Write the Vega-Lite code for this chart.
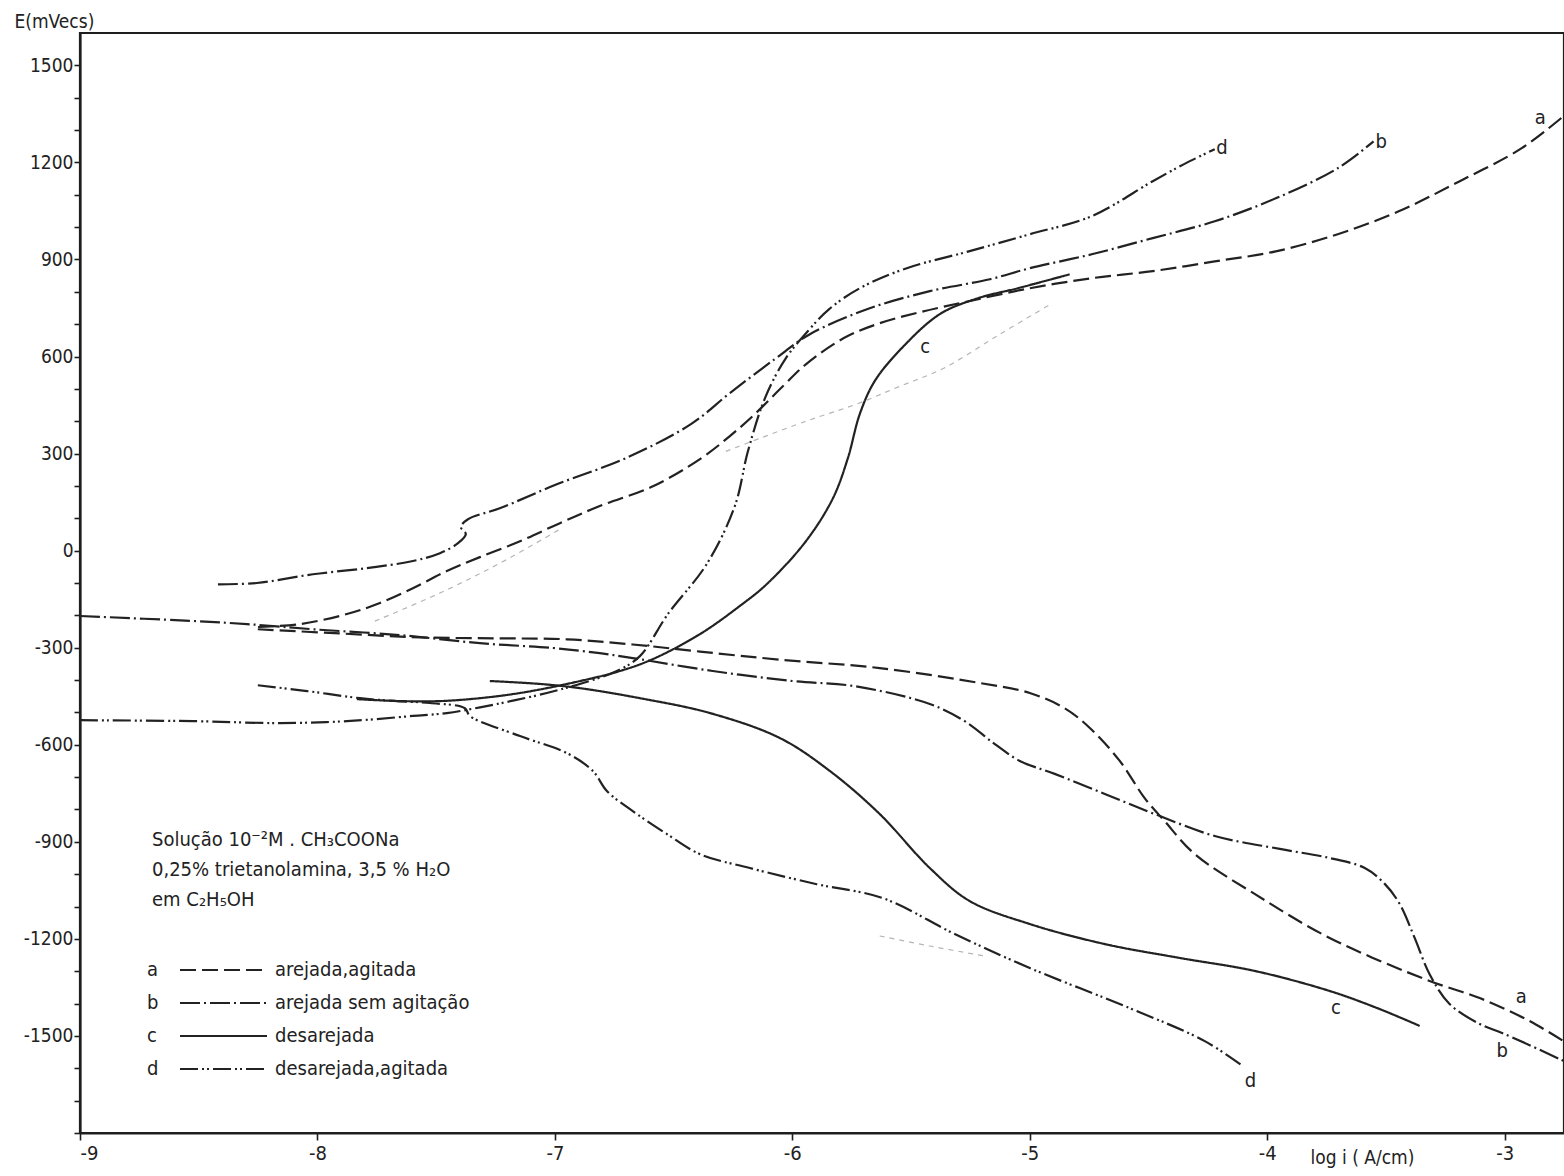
{
  "$schema": "https://vega.github.io/schema/vega-lite/v6.json",
  "width": 1484,
  "height": 1100,
  "autosize": {"type": "none"},
  "padding": {"left": 80, "top": 33, "right": 0, "bottom": 43},
  "background": "white",
  "config": {
    "font": "DejaVu Sans Condensed, DejaVu Sans, sans-serif",
    "view": {"stroke": "#1e1e1e", "strokeWidth": 2.2},
    "axis": {
      "grid": false,
      "domainColor": "#1e1e1e",
      "domainWidth": 2.2,
      "tickColor": "#1e1e1e",
      "tickWidth": 1.6,
      "labelColor": "#222",
      "titleColor": "#222",
      "labelFontSize": 19,
      "titleFontSize": 19,
      "titleFontWeight": "normal"
    }
  },
  "datasets": {
    "condicoes": [
      {"curva": "a", "condicao": "arejada,agitada"},
      {"curva": "b", "condicao": "arejada sem agitação"},
      {"curva": "c", "condicao": "desarejada"},
      {"curva": "d", "condicao": "desarejada,agitada"}
    ],
    "curvas": [
      {"curva": "a", "ramo": "a1", "i": 0, "logi": -8.25, "E": -236},
      {"curva": "a", "ramo": "a1", "i": 1, "logi": -8.074, "E": -227},
      {"curva": "a", "ramo": "a1", "i": 2, "logi": -7.876, "E": -196},
      {"curva": "a", "ramo": "a1", "i": 3, "logi": -7.737, "E": -162},
      {"curva": "a", "ramo": "a1", "i": 4, "logi": -7.598, "E": -116},
      {"curva": "a", "ramo": "a1", "i": 5, "logi": -7.455, "E": -63},
      {"curva": "a", "ramo": "a1", "i": 6, "logi": -7.316, "E": -20},
      {"curva": "a", "ramo": "a1", "i": 7, "logi": -7.147, "E": 29},
      {"curva": "a", "ramo": "a1", "i": 8, "logi": -6.979, "E": 85},
      {"curva": "a", "ramo": "a1", "i": 9, "logi": -6.811, "E": 138},
      {"curva": "a", "ramo": "a1", "i": 10, "logi": -6.587, "E": 199},
      {"curva": "a", "ramo": "a1", "i": 11, "logi": -6.389, "E": 283},
      {"curva": "a", "ramo": "a1", "i": 12, "logi": -6.263, "E": 354},
      {"curva": "a", "ramo": "a1", "i": 13, "logi": -6.158, "E": 422},
      {"curva": "a", "ramo": "a1", "i": 14, "logi": -6.04, "E": 508},
      {"curva": "a", "ramo": "a1", "i": 15, "logi": -5.943, "E": 576},
      {"curva": "a", "ramo": "a1", "i": 16, "logi": -5.783, "E": 657},
      {"curva": "a", "ramo": "a1", "i": 17, "logi": -5.632, "E": 703},
      {"curva": "a", "ramo": "a1", "i": 18, "logi": -5.463, "E": 737},
      {"curva": "a", "ramo": "a1", "i": 19, "logi": -5.257, "E": 771},
      {"curva": "a", "ramo": "a1", "i": 20, "logi": -5.0, "E": 811},
      {"curva": "a", "ramo": "a1", "i": 21, "logi": -4.739, "E": 842},
      {"curva": "a", "ramo": "a1", "i": 22, "logi": -4.482, "E": 864},
      {"curva": "a", "ramo": "a1", "i": 23, "logi": -4.221, "E": 894},
      {"curva": "a", "ramo": "a1", "i": 24, "logi": -3.964, "E": 925},
      {"curva": "a", "ramo": "a1", "i": 25, "logi": -3.703, "E": 978},
      {"curva": "a", "ramo": "a1", "i": 26, "logi": -3.446, "E": 1049},
      {"curva": "a", "ramo": "a1", "i": 27, "logi": -3.189, "E": 1142},
      {"curva": "a", "ramo": "a1", "i": 28, "logi": -2.928, "E": 1244},
      {"curva": "a", "ramo": "a1", "i": 29, "logi": -2.752, "E": 1343},

      {"curva": "a", "ramo": "a2", "i": 0, "logi": -8.251, "E": -243},
      {"curva": "a", "ramo": "a2", "i": 1, "logi": -7.905, "E": -256},
      {"curva": "a", "ramo": "a2", "i": 2, "logi": -7.568, "E": -268},
      {"curva": "a", "ramo": "a2", "i": 3, "logi": -7.244, "E": -271},
      {"curva": "a", "ramo": "a2", "i": 4, "logi": -6.949, "E": -274},
      {"curva": "a", "ramo": "a2", "i": 5, "logi": -6.672, "E": -290},
      {"curva": "a", "ramo": "a2", "i": 6, "logi": -6.389, "E": -312},
      {"curva": "a", "ramo": "a2", "i": 7, "logi": -6.053, "E": -337},
      {"curva": "a", "ramo": "a2", "i": 8, "logi": -5.632, "E": -363},
      {"curva": "a", "ramo": "a2", "i": 9, "logi": -5.211, "E": -409},
      {"curva": "a", "ramo": "a2", "i": 10, "logi": -5.0, "E": -440},
      {"curva": "a", "ramo": "a2", "i": 11, "logi": -4.853, "E": -487},
      {"curva": "a", "ramo": "a2", "i": 12, "logi": -4.747, "E": -548},
      {"curva": "a", "ramo": "a2", "i": 13, "logi": -4.621, "E": -650},
      {"curva": "a", "ramo": "a2", "i": 14, "logi": -4.516, "E": -765},
      {"curva": "a", "ramo": "a2", "i": 15, "logi": -4.432, "E": -836},
      {"curva": "a", "ramo": "a2", "i": 16, "logi": -4.305, "E": -938},
      {"curva": "a", "ramo": "a2", "i": 17, "logi": -4.053, "E": -1061},
      {"curva": "a", "ramo": "a2", "i": 18, "logi": -3.737, "E": -1197},
      {"curva": "a", "ramo": "a2", "i": 19, "logi": -3.316, "E": -1330},
      {"curva": "a", "ramo": "a2", "i": 20, "logi": -3.105, "E": -1383},
      {"curva": "a", "ramo": "a2", "i": 21, "logi": -2.895, "E": -1454},
      {"curva": "a", "ramo": "a2", "i": 22, "logi": -2.752, "E": -1516},

      {"curva": "b", "ramo": "b1", "i": 0, "logi": -8.419, "E": -104},
      {"curva": "b", "ramo": "b1", "i": 1, "logi": -8.255, "E": -100},
      {"curva": "b", "ramo": "b1", "i": 2, "logi": -8.019, "E": -73},
      {"curva": "b", "ramo": "b1", "i": 3, "logi": -7.792, "E": -54},
      {"curva": "b", "ramo": "b1", "i": 4, "logi": -7.598, "E": -32},
      {"curva": "b", "ramo": "b1", "i": 5, "logi": -7.484, "E": -8},
      {"curva": "b", "ramo": "b1", "i": 6, "logi": -7.408, "E": 23},
      {"curva": "b", "ramo": "b1", "i": 7, "logi": -7.375, "E": 51},
      {"curva": "b", "ramo": "b1", "i": 8, "logi": -7.396, "E": 73},
      {"curva": "b", "ramo": "b1", "i": 9, "logi": -7.366, "E": 97},
      {"curva": "b", "ramo": "b1", "i": 10, "logi": -7.232, "E": 131},
      {"curva": "b", "ramo": "b1", "i": 11, "logi": -6.992, "E": 205},
      {"curva": "b", "ramo": "b1", "i": 12, "logi": -6.701, "E": 286},
      {"curva": "b", "ramo": "b1", "i": 13, "logi": -6.427, "E": 391},
      {"curva": "b", "ramo": "b1", "i": 14, "logi": -6.263, "E": 487},
      {"curva": "b", "ramo": "b1", "i": 15, "logi": -6.074, "E": 592},
      {"curva": "b", "ramo": "b1", "i": 16, "logi": -5.926, "E": 669},
      {"curva": "b", "ramo": "b1", "i": 17, "logi": -5.674, "E": 749},
      {"curva": "b", "ramo": "b1", "i": 18, "logi": -5.421, "E": 802},
      {"curva": "b", "ramo": "b1", "i": 19, "logi": -5.168, "E": 839},
      {"curva": "b", "ramo": "b1", "i": 20, "logi": -5.0, "E": 873},
      {"curva": "b", "ramo": "b1", "i": 21, "logi": -4.739, "E": 916},
      {"curva": "b", "ramo": "b1", "i": 22, "logi": -4.482, "E": 966},
      {"curva": "b", "ramo": "b1", "i": 23, "logi": -4.221, "E": 1018},
      {"curva": "b", "ramo": "b1", "i": 24, "logi": -3.964, "E": 1089},
      {"curva": "b", "ramo": "b1", "i": 25, "logi": -3.703, "E": 1182},
      {"curva": "b", "ramo": "b1", "i": 26, "logi": -3.552, "E": 1265},

      {"curva": "b", "ramo": "b2", "i": 0, "logi": -9.0, "E": -202},
      {"curva": "b", "ramo": "b2", "i": 1, "logi": -8.507, "E": -218},
      {"curva": "b", "ramo": "b2", "i": 2, "logi": -8.297, "E": -227},
      {"curva": "b", "ramo": "b2", "i": 3, "logi": -8.019, "E": -243},
      {"curva": "b", "ramo": "b2", "i": 4, "logi": -7.653, "E": -261},
      {"curva": "b", "ramo": "b2", "i": 5, "logi": -7.316, "E": -286},
      {"curva": "b", "ramo": "b2", "i": 6, "logi": -7.008, "E": -301},
      {"curva": "b", "ramo": "b2", "i": 7, "logi": -6.811, "E": -317},
      {"curva": "b", "ramo": "b2", "i": 8, "logi": -6.672, "E": -332},
      {"curva": "b", "ramo": "b2", "i": 9, "logi": -6.335, "E": -372},
      {"curva": "b", "ramo": "b2", "i": 10, "logi": -5.998, "E": -403},
      {"curva": "b", "ramo": "b2", "i": 11, "logi": -5.737, "E": -419},
      {"curva": "b", "ramo": "b2", "i": 12, "logi": -5.421, "E": -474},
      {"curva": "b", "ramo": "b2", "i": 13, "logi": -5.274, "E": -527},
      {"curva": "b", "ramo": "b2", "i": 14, "logi": -5.147, "E": -598},
      {"curva": "b", "ramo": "b2", "i": 15, "logi": -5.042, "E": -650},
      {"curva": "b", "ramo": "b2", "i": 16, "logi": -4.895, "E": -690},
      {"curva": "b", "ramo": "b2", "i": 17, "logi": -4.684, "E": -752},
      {"curva": "b", "ramo": "b2", "i": 18, "logi": -4.474, "E": -814},
      {"curva": "b", "ramo": "b2", "i": 19, "logi": -4.221, "E": -882},
      {"curva": "b", "ramo": "b2", "i": 20, "logi": -3.947, "E": -922},
      {"curva": "b", "ramo": "b2", "i": 21, "logi": -3.737, "E": -950},
      {"curva": "b", "ramo": "b2", "i": 22, "logi": -3.589, "E": -981},
      {"curva": "b", "ramo": "b2", "i": 23, "logi": -3.505, "E": -1030},
      {"curva": "b", "ramo": "b2", "i": 24, "logi": -3.442, "E": -1092},
      {"curva": "b", "ramo": "b2", "i": 25, "logi": -3.379, "E": -1197},
      {"curva": "b", "ramo": "b2", "i": 26, "logi": -3.316, "E": -1309},
      {"curva": "b", "ramo": "b2", "i": 27, "logi": -3.232, "E": -1401},
      {"curva": "b", "ramo": "b2", "i": 28, "logi": -3.105, "E": -1463},
      {"curva": "b", "ramo": "b2", "i": 29, "logi": -3.0, "E": -1494},
      {"curva": "b", "ramo": "b2", "i": 30, "logi": -2.752, "E": -1577},

      {"curva": "c", "ramo": "c1", "i": 0, "logi": -7.834, "E": -459},
      {"curva": "c", "ramo": "c1", "i": 1, "logi": -7.653, "E": -465},
      {"curva": "c", "ramo": "c1", "i": 2, "logi": -7.484, "E": -465},
      {"curva": "c", "ramo": "c1", "i": 3, "logi": -7.316, "E": -456},
      {"curva": "c", "ramo": "c1", "i": 4, "logi": -7.147, "E": -440},
      {"curva": "c", "ramo": "c1", "i": 5, "logi": -6.949, "E": -412},
      {"curva": "c", "ramo": "c1", "i": 6, "logi": -6.726, "E": -372},
      {"curva": "c", "ramo": "c1", "i": 7, "logi": -6.587, "E": -335},
      {"curva": "c", "ramo": "c1", "i": 8, "logi": -6.389, "E": -258},
      {"curva": "c", "ramo": "c1", "i": 9, "logi": -6.221, "E": -171},
      {"curva": "c", "ramo": "c1", "i": 10, "logi": -6.107, "E": -103},
      {"curva": "c", "ramo": "c1", "i": 11, "logi": -5.943, "E": 29},
      {"curva": "c", "ramo": "c1", "i": 12, "logi": -5.829, "E": 162},
      {"curva": "c", "ramo": "c1", "i": 13, "logi": -5.766, "E": 286},
      {"curva": "c", "ramo": "c1", "i": 14, "logi": -5.716, "E": 422},
      {"curva": "c", "ramo": "c1", "i": 15, "logi": -5.653, "E": 524},
      {"curva": "c", "ramo": "c1", "i": 16, "logi": -5.539, "E": 626},
      {"curva": "c", "ramo": "c1", "i": 17, "logi": -5.379, "E": 731},
      {"curva": "c", "ramo": "c1", "i": 18, "logi": -5.219, "E": 780},
      {"curva": "c", "ramo": "c1", "i": 19, "logi": -5.051, "E": 811},
      {"curva": "c", "ramo": "c1", "i": 20, "logi": -4.832, "E": 854},

      {"curva": "c", "ramo": "c2", "i": 0, "logi": -7.274, "E": -403},
      {"curva": "c", "ramo": "c2", "i": 1, "logi": -7.063, "E": -412},
      {"curva": "c", "ramo": "c2", "i": 2, "logi": -6.895, "E": -425},
      {"curva": "c", "ramo": "c2", "i": 3, "logi": -6.642, "E": -456},
      {"curva": "c", "ramo": "c2", "i": 4, "logi": -6.347, "E": -502},
      {"curva": "c", "ramo": "c2", "i": 5, "logi": -6.053, "E": -579},
      {"curva": "c", "ramo": "c2", "i": 6, "logi": -5.842, "E": -681},
      {"curva": "c", "ramo": "c2", "i": 7, "logi": -5.632, "E": -814},
      {"curva": "c", "ramo": "c2", "i": 8, "logi": -5.421, "E": -981},
      {"curva": "c", "ramo": "c2", "i": 9, "logi": -5.253, "E": -1083},
      {"curva": "c", "ramo": "c2", "i": 10, "logi": -5.0, "E": -1154},
      {"curva": "c", "ramo": "c2", "i": 11, "logi": -4.684, "E": -1216},
      {"curva": "c", "ramo": "c2", "i": 12, "logi": -4.368, "E": -1259},
      {"curva": "c", "ramo": "c2", "i": 13, "logi": -4.053, "E": -1299},
      {"curva": "c", "ramo": "c2", "i": 14, "logi": -3.737, "E": -1361},
      {"curva": "c", "ramo": "c2", "i": 15, "logi": -3.526, "E": -1417},
      {"curva": "c", "ramo": "c2", "i": 16, "logi": -3.358, "E": -1469},

      {"curva": "d", "ramo": "d1", "i": 0, "logi": -9.0, "E": -524},
      {"curva": "d", "ramo": "d1", "i": 1, "logi": -8.524, "E": -527},
      {"curva": "d", "ramo": "d1", "i": 2, "logi": -8.158, "E": -533},
      {"curva": "d", "ramo": "d1", "i": 3, "logi": -7.876, "E": -527},
      {"curva": "d", "ramo": "d1", "i": 4, "logi": -7.598, "E": -511},
      {"curva": "d", "ramo": "d1", "i": 5, "logi": -7.455, "E": -502},
      {"curva": "d", "ramo": "d1", "i": 6, "logi": -7.244, "E": -474},
      {"curva": "d", "ramo": "d1", "i": 7, "logi": -7.034, "E": -440},
      {"curva": "d", "ramo": "d1", "i": 8, "logi": -6.895, "E": -412},
      {"curva": "d", "ramo": "d1", "i": 9, "logi": -6.739, "E": -372},
      {"curva": "d", "ramo": "d1", "i": 10, "logi": -6.642, "E": -326},
      {"curva": "d", "ramo": "d1", "i": 11, "logi": -6.524, "E": -196},
      {"curva": "d", "ramo": "d1", "i": 12, "logi": -6.36, "E": -41},
      {"curva": "d", "ramo": "d1", "i": 13, "logi": -6.242, "E": 138},
      {"curva": "d", "ramo": "d1", "i": 14, "logi": -6.187, "E": 307},
      {"curva": "d", "ramo": "d1", "i": 15, "logi": -6.112, "E": 477},
      {"curva": "d", "ramo": "d1", "i": 16, "logi": -6.027, "E": 595},
      {"curva": "d", "ramo": "d1", "i": 17, "logi": -5.935, "E": 678},
      {"curva": "d", "ramo": "d1", "i": 18, "logi": -5.846, "E": 746},
      {"curva": "d", "ramo": "d1", "i": 19, "logi": -5.716, "E": 811},
      {"curva": "d", "ramo": "d1", "i": 20, "logi": -5.518, "E": 873},
      {"curva": "d", "ramo": "d1", "i": 21, "logi": -5.257, "E": 925},
      {"curva": "d", "ramo": "d1", "i": 22, "logi": -5.0, "E": 978},
      {"curva": "d", "ramo": "d1", "i": 23, "logi": -4.739, "E": 1034},
      {"curva": "d", "ramo": "d1", "i": 24, "logi": -4.482, "E": 1142},
      {"curva": "d", "ramo": "d1", "i": 25, "logi": -4.352, "E": 1194},
      {"curva": "d", "ramo": "d1", "i": 26, "logi": -4.221, "E": 1241},

      {"curva": "d", "ramo": "d2", "i": 0, "logi": -8.251, "E": -416},
      {"curva": "d", "ramo": "d2", "i": 1, "logi": -8.044, "E": -434},
      {"curva": "d", "ramo": "d2", "i": 2, "logi": -7.821, "E": -456},
      {"curva": "d", "ramo": "d2", "i": 3, "logi": -7.665, "E": -465},
      {"curva": "d", "ramo": "d2", "i": 4, "logi": -7.526, "E": -471},
      {"curva": "d", "ramo": "d2", "i": 5, "logi": -7.379, "E": -487},
      {"curva": "d", "ramo": "d2", "i": 6, "logi": -7.358, "E": -511},
      {"curva": "d", "ramo": "d2", "i": 7, "logi": -7.147, "E": -573},
      {"curva": "d", "ramo": "d2", "i": 8, "logi": -6.949, "E": -626},
      {"curva": "d", "ramo": "d2", "i": 9, "logi": -6.84, "E": -681},
      {"curva": "d", "ramo": "d2", "i": 10, "logi": -6.781, "E": -743},
      {"curva": "d", "ramo": "d2", "i": 11, "logi": -6.672, "E": -805},
      {"curva": "d", "ramo": "d2", "i": 12, "logi": -6.528, "E": -876},
      {"curva": "d", "ramo": "d2", "i": 13, "logi": -6.389, "E": -938},
      {"curva": "d", "ramo": "d2", "i": 14, "logi": -6.179, "E": -981},
      {"curva": "d", "ramo": "d2", "i": 15, "logi": -5.897, "E": -1031},
      {"curva": "d", "ramo": "d2", "i": 16, "logi": -5.619, "E": -1074},
      {"curva": "d", "ramo": "d2", "i": 17, "logi": -5.316, "E": -1185},
      {"curva": "d", "ramo": "d2", "i": 18, "logi": -5.0, "E": -1290},
      {"curva": "d", "ramo": "d2", "i": 19, "logi": -4.579, "E": -1414},
      {"curva": "d", "ramo": "d2", "i": 20, "logi": -4.263, "E": -1516},
      {"curva": "d", "ramo": "d2", "i": 21, "logi": -4.103, "E": -1593}
    ],
    "guias": [
      {"trecho": "g1", "i": 0, "logi": -7.758, "E": -218},
      {"trecho": "g1", "i": 1, "logi": -7.484, "E": -131},
      {"trecho": "g1", "i": 2, "logi": -7.232, "E": -39},
      {"trecho": "g1", "i": 3, "logi": -6.979, "E": 66},
      {"trecho": "g2", "i": 0, "logi": -6.28, "E": 307},
      {"trecho": "g2", "i": 1, "logi": -5.943, "E": 400},
      {"trecho": "g2", "i": 2, "logi": -5.733, "E": 452},
      {"trecho": "g2", "i": 3, "logi": -5.547, "E": 508},
      {"trecho": "g2", "i": 4, "logi": -5.362, "E": 564},
      {"trecho": "g2", "i": 5, "logi": -5.126, "E": 669},
      {"trecho": "g2", "i": 6, "logi": -4.912, "E": 762},
      {"trecho": "g3", "i": 0, "logi": -5.632, "E": -1191},
      {"trecho": "g3", "i": 1, "logi": -5.421, "E": -1222},
      {"trecho": "g3", "i": 2, "logi": -5.189, "E": -1253}
    ],
    "rotulos": [
      {"texto": "a", "logi": -2.85, "E": 1337},
      {"texto": "b", "logi": -3.52, "E": 1263},
      {"texto": "d", "logi": -4.19, "E": 1245},
      {"texto": "c", "logi": -5.44, "E": 630},
      {"texto": "a", "logi": -2.93, "E": -1379},
      {"texto": "b", "logi": -3.01, "E": -1546},
      {"texto": "c", "logi": -3.71, "E": -1413},
      {"texto": "d", "logi": -4.07, "E": -1639}
    ]
  },
  "encoding": {
    "x": {
      "field": "logi",
      "type": "quantitative",
      "scale": {"domain": [-9, -2.75], "nice": false, "zero": false},
      "axis": {
        "values": [-9, -8, -7, -6, -5, -4, -3],
        "labelExpr": "datum.value + ''",
        "tickSize": 7,
        "labelPadding": 3,
        "labelFontSize": 20,
        "title": "log i ( A/cm)",
        "titleAnchor": "start",
        "titleAlign": "left",
        "titleBaseline": "middle",
        "titleX": 1230,
        "titleY": 24,
        "titleFontSize": 19
      }
    },
    "y": {
      "field": "E",
      "type": "quantitative",
      "scale": {"domain": [-1800, 1600], "nice": false, "zero": false},
      "axis": {
        "values": [-1800, -1700, -1600, -1500, -1400, -1300, -1200, -1100, -1000, -900, -800, -700, -600, -500, -400, -300, -200, -100, 0, 100, 200, 300, 400, 500, 600, 700, 800, 900, 1000, 1100, 1200, 1300, 1400, 1500],
        "labelExpr": "(datum.value % 300 === 0 && abs(datum.value) <= 1500) ? datum.value + '' : ''",
        "tickSize": 6,
        "labelPadding": 1,
        "labelFontSize": 19,
        "title": "E(mVecs)",
        "titleAngle": 0,
        "titleAlign": "left",
        "titleBaseline": "middle",
        "titleX": -66,
        "titleY": -12,
        "titleFontSize": 19
      }
    }
  },
  "layer": [
    {
      "data": {"name": "guias"},
      "mark": {"type": "line", "stroke": "#b5b5b5", "strokeWidth": 1.2, "strokeDash": [5, 5], "interpolate": "catmull-rom"},
      "encoding": {
        "detail": {"field": "trecho", "type": "nominal"},
        "order": {"field": "i", "type": "quantitative"}
      }
    },
    {
      "data": {"name": "curvas"},
      "transform": [
        {"lookup": "curva", "from": {"data": {"name": "condicoes"}, "key": "curva", "fields": ["condicao"]}}
      ],
      "mark": {"type": "line", "strokeWidth": 2.2, "interpolate": "catmull-rom"},
      "encoding": {
        "color": {
          "field": "curva",
          "type": "nominal",
          "scale": {"domain": ["a", "b", "c", "d"], "range": ["#222", "#222", "#222", "#222"]},
          "legend": {
            "orient": "none",
            "legendX": 72,
            "legendY": 797,
            "padding": 0,
            "title": ["Solução 10⁻²M . CH₃COONa", "0,25% trietanolamina, 3,5 % H₂O", "em C₂H₅OH"],
            "titleFontSize": 20,
            "titleFontWeight": "normal",
            "titleColor": "#222",
            "titleLineHeight": 30,
            "titleLimit": 600,
            "titlePadding": 50,
            "symbolType": "circle",
            "symbolSize": 1,
            "symbolOpacity": 0,
            "symbolStrokeWidth": 0,
            "labelOffset": -25,
            "labelFontSize": 20,
            "labelColor": "#222",
            "rowPadding": 13
          }
        },
        "strokeDash": {
          "field": "condicao",
          "type": "nominal",
          "scale": {
            "domain": ["arejada,agitada", "arejada sem agitação", "desarejada", "desarejada,agitada"],
            "range": [[16, 6], [20, 4, 2, 4], [1, 0], [18, 4, 2, 3, 2, 4]]
          },
          "legend": {
            "orient": "none",
            "legendX": 90,
            "legendY": 927,
            "padding": 0,
            "title": null,
            "symbolType": "M0,0H17.4",
            "symbolSize": 100,
            "symbolStrokeWidth": 2,
            "symbolStrokeColor": "#222",
            "symbolFillColor": "transparent",
            "labelOffset": 85,
            "labelFontSize": 20,
            "labelColor": "#222",
            "labelLimit": 500,
            "rowPadding": 13
          }
        },
        "detail": {"field": "ramo", "type": "nominal"},
        "order": {"field": "i", "type": "quantitative"}
      }
    },
    {
      "data": {"name": "rotulos"},
      "mark": {"type": "text", "fontSize": 20, "color": "#222", "align": "center", "baseline": "middle"},
      "encoding": {
        "text": {"field": "texto", "type": "nominal"}
      }
    }
  ]
}
